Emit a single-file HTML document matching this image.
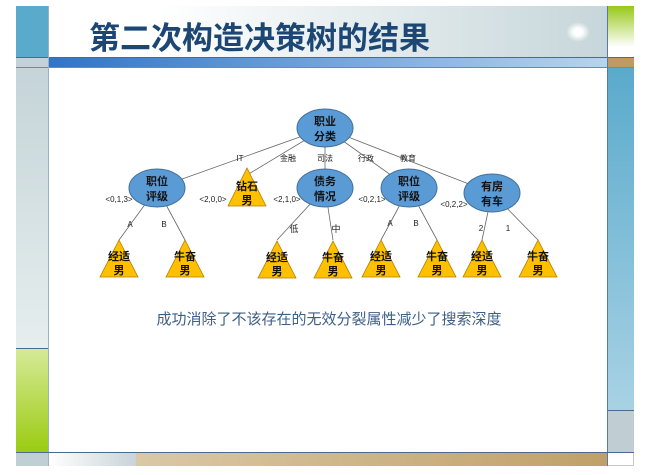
<!DOCTYPE html>
<html><head><meta charset="utf-8"><style>
body{margin:0;width:649px;height:475px;background:#fff;position:relative;overflow:hidden;font-family:"Liberation Sans","Noto Sans CJK SC",sans-serif}
.a{position:absolute}
</style></head><body>
<div class="a" style="left:16px;top:6px;width:618px;height:460px;border:1px solid #c8c8c8;box-sizing:border-box"></div>
<!-- left column -->
<div class="a" style="left:16px;top:6px;width:32px;height:51px;background:#5aaacc"></div>
<div class="a" style="left:16px;top:57px;width:32px;height:10px;background:#c2d2d6"></div>
<div class="a" style="left:16px;top:67px;width:32px;height:281px;background:linear-gradient(#c4d4d8,#e6eeee)"></div>
<div class="a" style="left:16px;top:348px;width:32px;height:104px;background:linear-gradient(#d6ea98,#9acb10);border-top:1px solid #4a6a90"></div>
<div class="a" style="left:16px;top:452px;width:32px;height:14px;background:#bfcfd4"></div>
<!-- header -->
<div class="a" style="left:48px;top:6px;width:560px;height:51px;background:linear-gradient(90deg,#fff 20%,#c6d6da)"></div>
<div class="a" style="left:89px;top:13px;font-size:31px;font-weight:bold;color:#1c4674;white-space:nowrap">第二次构造决策树的结果</div>
<div class="a" style="left:566px;top:22px;width:24px;height:20px;border-radius:50%;background:radial-gradient(#fff 25%,rgba(255,255,255,0) 70%)"></div>
<div class="a" style="left:16px;top:57px;width:618px;height:1px;background:#4a6a90"></div>
<div class="a" style="left:48px;top:58px;width:560px;height:9px;background:linear-gradient(90deg,#2e74c8,#b8d4ee)"></div>
<div class="a" style="left:16px;top:67px;width:618px;height:1px;background:#6a8ab0"></div>
<!-- right column -->
<div class="a" style="left:608px;top:6px;width:26px;height:51px;background:linear-gradient(#98c818,#fff 80%)"></div>
<div class="a" style="left:608px;top:58px;width:26px;height:9px;background:#c09a60"></div>
<div class="a" style="left:608px;top:68px;width:26px;height:342px;background:linear-gradient(#5aaacc,#a8d2e4)"></div>
<div class="a" style="left:608px;top:410px;width:26px;height:42px;background:#c0ced4;border-top:1px solid #4a6a90"></div>
<div class="a" style="left:607px;top:6px;width:1px;height:460px;background:#5a7aa0"></div>
<div class="a" style="left:48px;top:6px;width:1px;height:460px;background:#9ab0c4"></div>
<!-- bottom -->
<div class="a" style="left:16px;top:452px;width:618px;height:1px;background:#4a6a90"></div>
<div class="a" style="left:49px;top:453px;width:87px;height:13px;background:linear-gradient(90deg,#fff,#c8d4d8)"></div>
<div class="a" style="left:136px;top:453px;width:471px;height:13px;background:linear-gradient(90deg,#dac8a6,#c0a068)"></div>
<svg class="a" style="left:0;top:0" width="649" height="475" font-family="Liberation Sans,Noto Sans CJK SC,sans-serif">
<g stroke="#666" stroke-width="0.8">
<line x1="325" y1="128" x2="157" y2="188"/><line x1="325" y1="128" x2="247" y2="175"/>
<line x1="325" y1="128" x2="325" y2="188"/><line x1="325" y1="128" x2="409" y2="188"/>
<line x1="325" y1="128" x2="492" y2="193"/>
<line x1="157" y1="188" x2="119" y2="240"/><line x1="157" y1="188" x2="185" y2="240"/>
<line x1="325" y1="188" x2="277" y2="240"/><line x1="325" y1="188" x2="333" y2="240"/>
<line x1="409" y1="188" x2="381" y2="240"/><line x1="409" y1="188" x2="437" y2="240"/>
<line x1="492" y1="193" x2="482" y2="240"/><line x1="492" y1="193" x2="538" y2="240"/>
</g>
<g fill="#5b9bd5" stroke="#41719c" stroke-width="1">
<ellipse cx="325" cy="128" rx="28" ry="19"/>
<ellipse cx="157" cy="188" rx="28" ry="19"/>
<ellipse cx="325" cy="188" rx="28" ry="19"/>
<ellipse cx="409" cy="188" rx="28" ry="19"/>
<ellipse cx="492" cy="193" rx="28" ry="19"/>
</g>
<g fill="#ffc000" stroke="#b08000" stroke-width="0.8">
<polygon points="247,168 228,206 266,206"/>
<polygon points="119,240 100,277 138,277"/><polygon points="185,240 166,277 204,277"/>
<polygon points="277,241 258,278 296,278"/><polygon points="333,241 314,278 352,278"/>
<polygon points="381,240 362,277 400,277"/><polygon points="437,240 418,277 456,277"/>
<polygon points="482,240 463,277 501,277"/><polygon points="538,240 519,277 557,277"/>
</g>
<g font-size="11" font-weight="bold" fill="#111" text-anchor="middle">
<text x="325" y="125">职业</text><text x="325" y="140">分类</text>
<text x="157" y="185">职位</text><text x="157" y="200">评级</text>
<text x="325" y="185">债务</text><text x="325" y="200">情况</text>
<text x="409" y="185">职位</text><text x="409" y="200">评级</text>
<text x="492" y="190">有房</text><text x="492" y="205">有车</text>
<text x="247" y="190">钻石</text><text x="247" y="204">男</text>
<g>
<text x="119" y="260">经适</text><text x="119" y="274">男</text>
<text x="185" y="260">牛奋</text><text x="185" y="274">男</text>
<text x="277" y="261">经适</text><text x="277" y="275">男</text>
<text x="333" y="261">牛奋</text><text x="333" y="275">男</text>
<text x="381" y="260">经适</text><text x="381" y="274">男</text>
<text x="437" y="260">牛奋</text><text x="437" y="274">男</text>
<text x="482" y="260">经适</text><text x="482" y="274">男</text>
<text x="538" y="260">牛奋</text><text x="538" y="274">男</text>
</g>
</g>
<g font-size="8" fill="#222" text-anchor="middle">
<text x="240" y="161">IT</text><text x="288" y="161">金融</text><text x="325" y="161">司法</text>
<text x="366" y="161">行政</text><text x="408" y="161">教育</text>
<text x="119" y="202">&lt;0,1,3&gt;</text><text x="213" y="202">&lt;2,0,0&gt;</text>
<text x="287" y="202">&lt;2,1,0&gt;</text><text x="372" y="202">&lt;0,2,1&gt;</text>
<text x="454" y="207">&lt;0,2,2&gt;</text>
<text x="130" y="227">A</text><text x="164" y="227">B</text>
<text x="294" y="232" font-size="9">低</text><text x="336" y="232" font-size="9">中</text>
<text x="390" y="226">A</text><text x="416" y="226">B</text>
<text x="481" y="231">2</text><text x="508" y="231">1</text>
</g>
<text x="329" y="324" font-size="15" fill="#3d5f86" text-anchor="middle">成功消除了不该存在的无效分裂属性减少了搜索深度</text>
</svg>
</body></html>
